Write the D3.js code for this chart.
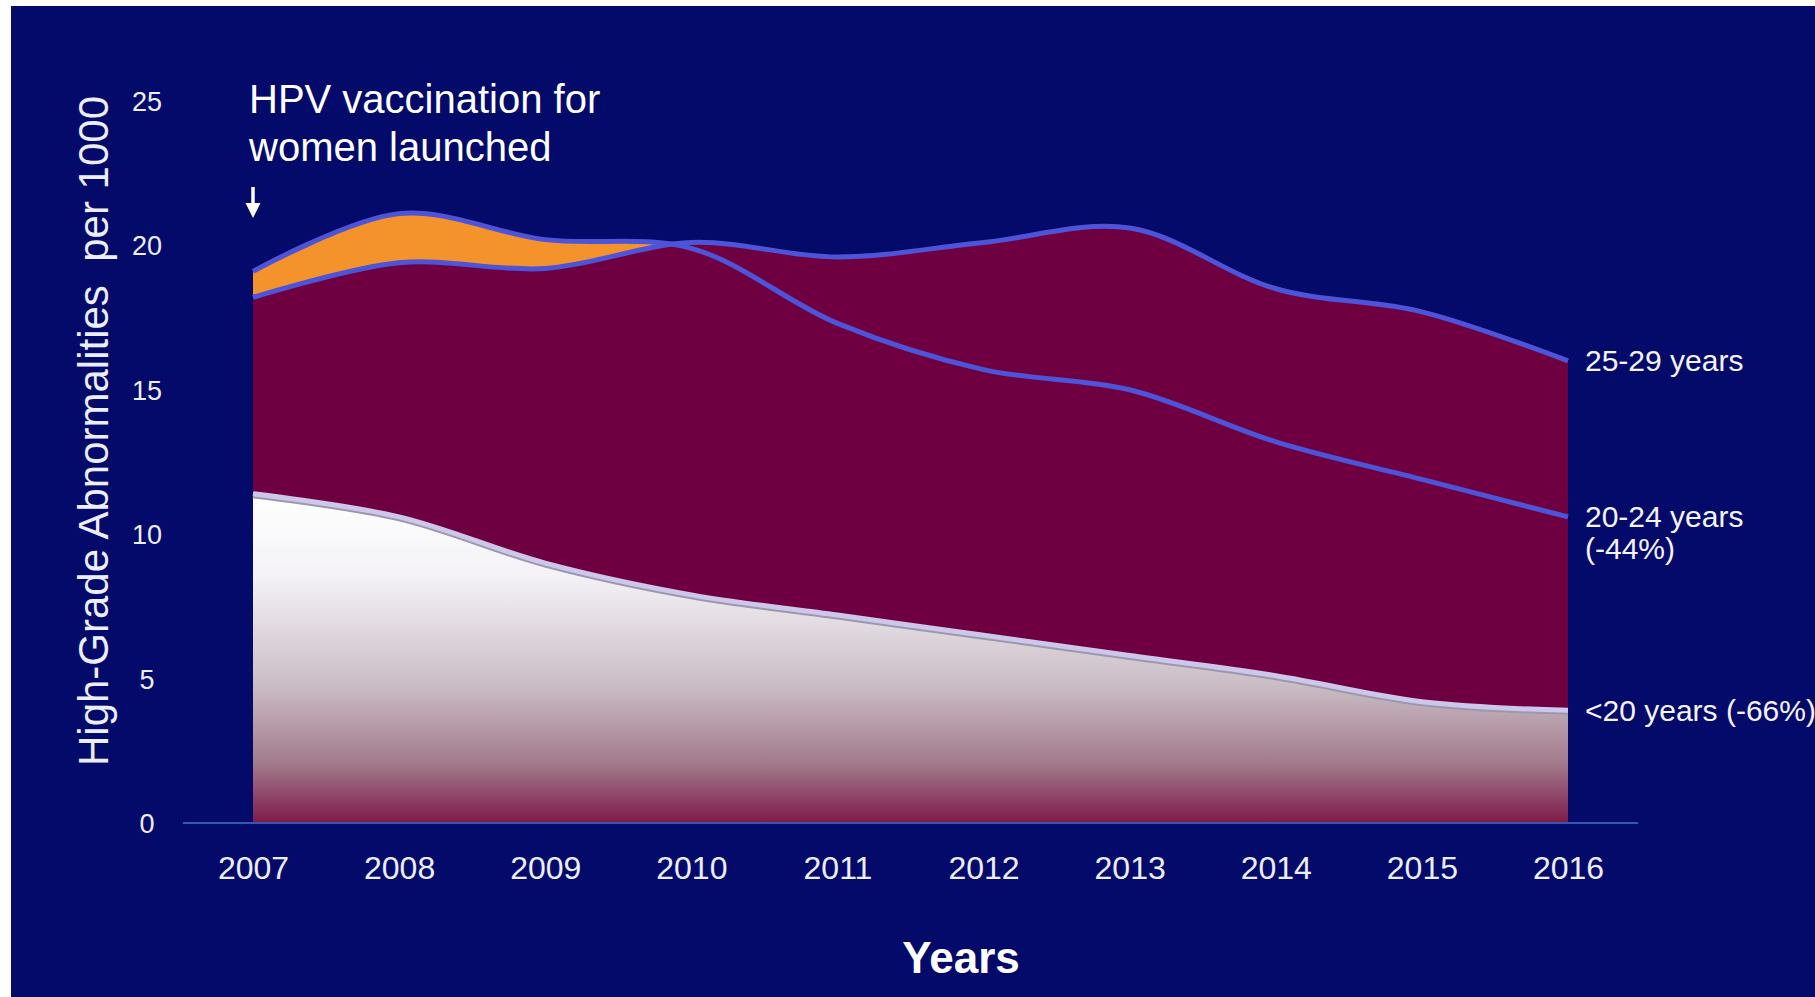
<!DOCTYPE html>
<html>
<head>
<meta charset="utf-8">
<script src="https://cdn.jsdelivr.net/npm/d3@7"></script>
<style>
  html, body { margin: 0; padding: 0; background: #ffffff; }
  svg { display: block; }
  text { font-family: "Liberation Sans", Arial, sans-serif; }
</style>
</head>
<body>
<svg id="chart" width="1815" height="997"></svg>
<script>
// Years on the x axis
const years = [2007, 2008, 2009, 2010, 2011, 2012, 2013, 2014, 2015, 2016];
// High-grade abnormalities per 1000 women screened, by age group
const rate25to29 = [18.2, 19.4, 19.2, 20.1, 19.6, 20.1, 20.6, 18.5, 17.7, 16.0];
const rate20to24 = [19.1, 21.1, 20.2, 19.9, 17.3, 15.7, 15.0, 13.2, 11.9, 10.6];
const rateUnder20 = [11.4, 10.6, 9.0, 7.9, 7.2, 6.5, 5.8, 5.1, 4.2, 3.9];
// Axis ticks
const yTicks = [0, 5, 10, 15, 20, 25];
const xTickLabels = ["2007", "2008", "2009", "2010", "2011", "2012", "2013", "2014", "2015", "2016"];
// End-of-line labels
const endLabels = [
  { series: "rate25to29", lines: ["25-29 years"] },
  { series: "rate20to24", lines: ["20-24 years", "(-44%)"] },
  { series: "rateUnder20", lines: ["<20 years (-66%)"] }
];

const W = 1815, H = 997;
const svg = d3.select("#chart");

// navy slide background (thin white margin left/top)
svg.append("rect").attr("x", 11).attr("y", 6).attr("width", W - 11).attr("height", H - 6).attr("fill", "#030a69");

const x = d3.scaleLinear().domain([2007, 2016]).range([253, 1568]);
const y = d3.scaleLinear().domain([0, 25]).range([823, 101]);

const defs = svg.append("defs");
const grad = defs.append("linearGradient").attr("id", "under20Fill")
  .attr("x1", 0).attr("y1", 0).attr("x2", 0).attr("y2", 1);
[[0, "#ffffff"], [0.25, "#f4f2f6"], [0.58, "#cbbdc6"], [0.82, "#a27a8c"], [1, "#7e1a4a"]]
  .forEach(([o, c]) => grad.append("stop").attr("offset", o).attr("stop-color", c));

const curve = d3.curveCatmullRom.alpha(0.5);
const series = {
  rate25to29: years.map((yr, i) => ({ yr, v: rate25to29[i] })),
  rate20to24: years.map((yr, i) => ({ yr, v: rate20to24[i] })),
  rateUnder20: years.map((yr, i) => ({ yr, v: rateUnder20[i] }))
};
const area = d3.area().x(d => x(d.yr)).y0(y(0)).y1(d => y(d.v)).curve(curve);
const line = d3.line().x(d => x(d.yr)).y(d => y(d.v)).curve(curve);

const plot = svg.append("g");
// 20-24 area behind, 25-29 area over it: orange shows where 20-24 is higher
plot.append("path").attr("d", area(series.rate20to24)).attr("fill", "#f4922b");
plot.append("path").attr("d", area(series.rate25to29)).attr("fill", "#6e0041");
plot.append("path").attr("d", line(series.rate20to24)).attr("fill", "none")
  .attr("stroke", "#4d54d8").attr("stroke-width", 5);
plot.append("path").attr("d", line(series.rate25to29)).attr("fill", "none")
  .attr("stroke", "#4d54d8").attr("stroke-width", 5);
// <20 area with white-to-maroon fade
plot.append("path").attr("d", area(series.rateUnder20)).attr("fill", "url(#under20Fill)");
plot.append("path").attr("d", line(series.rateUnder20)).attr("fill", "none")
  .attr("stroke", "#9a98ac").attr("stroke-width", 5).attr("transform", "translate(0,2)");
plot.append("path").attr("d", line(series.rateUnder20)).attr("fill", "none")
  .attr("stroke", "#cdc7ec").attr("stroke-width", 5);

// baseline
svg.append("line")
  .attr("x1", x(2006.52)).attr("x2", x(2016.48))
  .attr("y1", y(0)).attr("y2", y(0))
  .attr("stroke", "#3557a8").attr("stroke-width", 2);

// y axis
const yAxis = svg.append("g").attr("transform", "translate(147,0)")
  .call(d3.axisLeft(y).tickValues(yTicks).tickSize(0).tickPadding(0).tickFormat(d3.format("d")));
yAxis.select(".domain").remove();
yAxis.selectAll("text").attr("text-anchor", "middle").attr("fill", "#eceefc")
  .style("font-size", "27px").attr("dy", "0.35em");

// x axis
const xAxis = svg.append("g").attr("transform", `translate(0,${y(0)})`)
  .call(d3.axisBottom(x).tickValues(years).tickSize(0).tickPadding(33).tickFormat((d, i) => xTickLabels[i]));
xAxis.select(".domain").remove();
xAxis.selectAll("text").attr("fill", "#eceefc").style("font-size", "32px");

// axis titles
svg.append("text")
  .attr("transform", "translate(108,431) rotate(-90)")
  .attr("text-anchor", "middle").attr("fill", "#eceefc").style("font-size", "42px")
  .attr("xml:space", "preserve")
  .text("High-Grade Abnormalities  per 1000");
svg.append("text")
  .attr("x", 961).attr("y", 973).attr("text-anchor", "middle")
  .attr("fill", "#ffffff").style("font-size", "44px").style("font-weight", "bold")
  .text("Years");

// annotation
const ann = svg.append("g").attr("fill", "#ffffff");
ann.append("text").attr("x", x(2007) - 4).attr("y", 113).style("font-size", "40px").text("HPV vaccination for");
ann.append("text").attr("x", x(2007) - 4).attr("y", 161).style("font-size", "40px").text("women launched");
ann.append("line").attr("x1", x(2007)).attr("x2", x(2007)).attr("y1", 187).attr("y2", 206)
  .attr("stroke", "#ffffff").attr("stroke-width", 3.5);
ann.append("path")
  .attr("d", `M${x(2007) - 7.5},203 L${x(2007) + 7.5},203 L${x(2007)},218 Z`);

// end labels
endLabels.forEach(lab => {
  const last = series[lab.series][series[lab.series].length - 1];
  const t = svg.append("text").attr("x", x(2016) + 17).attr("y", y(last.v))
    .attr("fill", "#f4f4ff").style("font-size", "30px");
  lab.lines.forEach((s, i) => {
    t.append("tspan").attr("x", x(2016) + 17).attr("dy", i === 0 ? "0.35em" : "1.05em").text(s);
  });
});
</script>
</body>
</html>
